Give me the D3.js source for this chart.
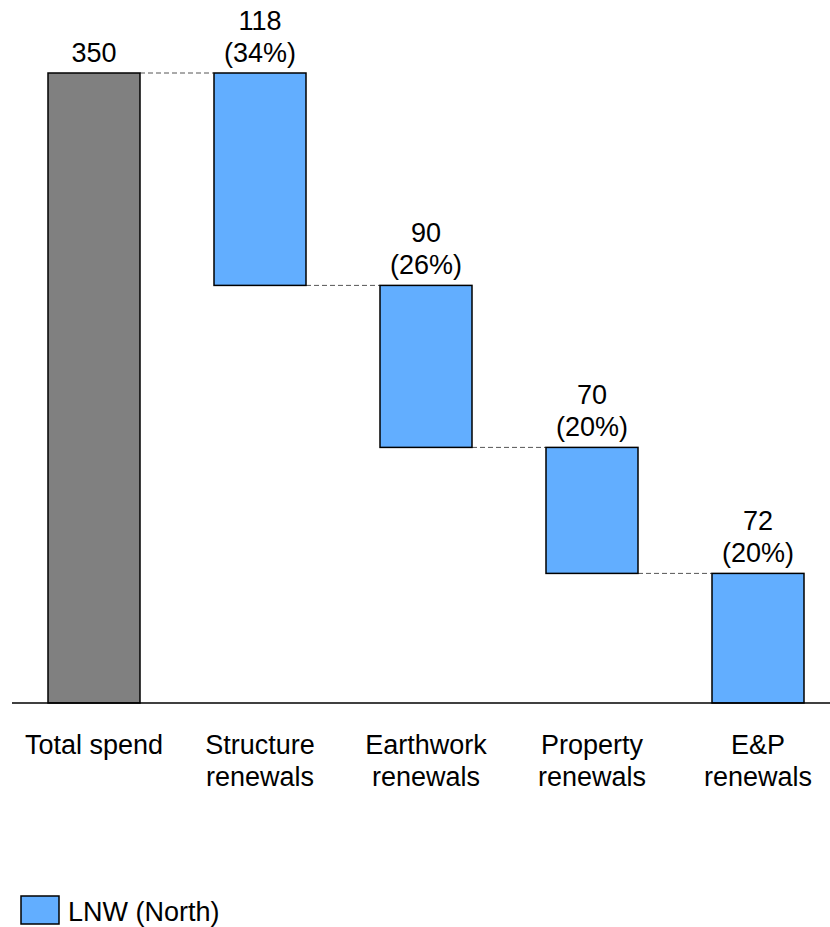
<!DOCTYPE html>
<html>
<head>
<meta charset="utf-8">
<script src="https://cdn.jsdelivr.net/npm/d3@7"></script>
<style>
  html, body { margin: 0; padding: 0; background: #fff; }
  svg { display: block; font-family: Arial, "Liberation Sans", sans-serif; }
</style>
</head>
<body>
<svg id="chart" width="830" height="927"></svg>
<script>
// Waterfall of total spend broken down by renewal type
const categories = ["Total spend", "Structure renewals", "Earthwork renewals", "Property renewals", "E&P renewals"];
const categoryLines = [["Total spend"], ["Structure", "renewals"], ["Earthwork", "renewals"], ["Property", "renewals"], ["E&P", "renewals"]];
const totalValue = 350;
const stepValues = [118, 90, 70, 72];
const shareLabels = ["(34%)", "(26%)", "(20%)", "(20%)"];
const legendLabel = "LNW (North)";

const grey = "#808080";
const blue = "#62AEFF";
const fontSize = 27;

const svg = d3.select("#chart");

const x = d3.scaleBand()
  .domain(categories)
  .range([11, 841])
  .paddingInner(74 / 166)
  .paddingOuter(37 / 166);

const y = d3.scaleLinear().domain([0, totalValue]).range([703, 73]);

// Build the floating segments: the total starts at 0, each step hangs below the previous
const segments = [{ cat: categories[0], lo: 0, hi: totalValue, total: true, lines: [String(totalValue)] }];
let level = totalValue;
stepValues.forEach((v, i) => {
  segments.push({ cat: categories[i + 1], lo: level - v, hi: level, total: false, lines: [String(v), shareLabels[i]] });
  level -= v;
});

// Dashed connectors between consecutive bars
const conn = svg.append("g");
segments.slice(1).forEach((s, i) => {
  const prev = segments[i];
  conn.append("line")
    .attr("x1", x(prev.cat) + x.bandwidth())
    .attr("x2", x(s.cat))
    .attr("y1", y(s.hi))
    .attr("y2", y(s.hi))
    .attr("stroke", "#555")
    .attr("stroke-width", 1)
    .attr("stroke-dasharray", "5,3");
});

// Bars
svg.append("g").selectAll("rect")
  .data(segments)
  .join("rect")
  .attr("x", d => x(d.cat))
  .attr("width", x.bandwidth())
  .attr("y", d => y(d.hi))
  .attr("height", d => y(d.lo) - y(d.hi))
  .attr("fill", d => d.total ? grey : blue)
  .attr("stroke", "#000")
  .attr("stroke-width", 1.5);

// Value labels above each bar
const lab = svg.append("g").attr("font-size", fontSize).attr("fill", "#000").attr("text-anchor", "middle");
segments.forEach(s => {
  const cx = x(s.cat) + x.bandwidth() / 2;
  const top = y(s.hi);
  s.lines.forEach((t, j) => {
    lab.append("text")
      .attr("x", cx)
      .attr("y", top - 11 - (s.lines.length - 1 - j) * 32)
      .text(t);
  });
});

// Baseline axis
svg.append("line")
  .attr("x1", 12).attr("x2", 830)
  .attr("y1", y(0)).attr("y2", y(0))
  .attr("stroke", "#000").attr("stroke-width", 1.5);

// Category labels
const cat = svg.append("g").attr("font-size", fontSize).attr("fill", "#000").attr("text-anchor", "middle");
categories.forEach((c, i) => {
  const cx = x(c) + x.bandwidth() / 2;
  categoryLines[i].forEach((t, j) => {
    cat.append("text").attr("x", cx).attr("y", 754 + j * 32).text(t);
  });
});

// Legend
const leg = svg.append("g");
leg.append("rect")
  .attr("x", 21).attr("y", 896).attr("width", 38).attr("height", 28)
  .attr("fill", blue).attr("stroke", "#000").attr("stroke-width", 1.5);
leg.append("text")
  .attr("x", 68).attr("y", 921)
  .attr("font-size", fontSize).attr("fill", "#000")
  .text(legendLabel);
</script>
</body>
</html>
